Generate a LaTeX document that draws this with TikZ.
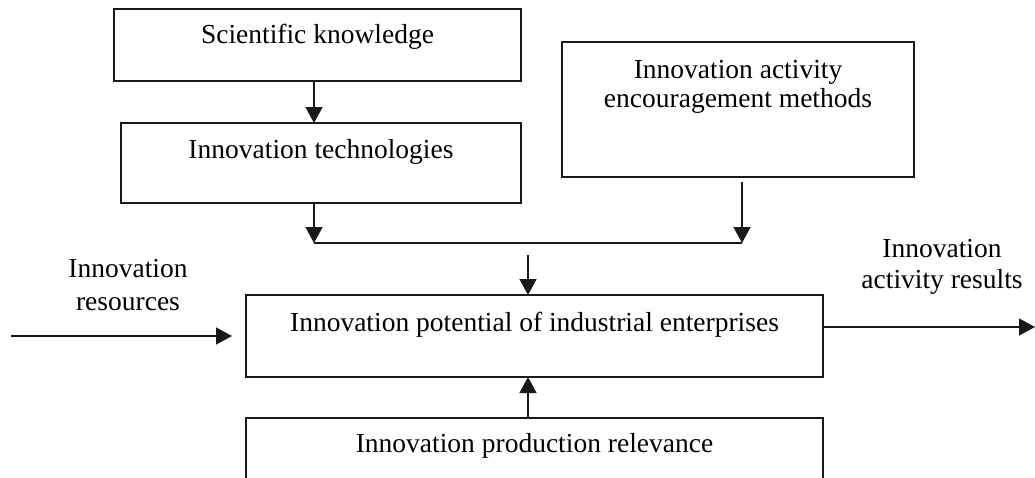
\documentclass[tikz,border=0pt]{standalone}
\usepackage{fontspec}
\setmainfont{Liberation Serif}
\usetikzlibrary{arrows.meta}
\begin{document}
\begin{tikzpicture}[x=1pt,y=-1pt,
  box/.style={draw=black!90, line width=1.5pt, inner sep=0pt, outer sep=0pt, rectangle},
  lbl/.style={inner sep=0pt, outer sep=0pt, font=\fontsize{27.5}{31}\selectfont, text=black},
  arr/.style={draw=black!90, line width=1.5pt, -{Triangle[length=16pt,width=17pt]}},
  ln/.style={draw=black!90, line width=1.5pt}]
\useasboundingbox (0,0) rectangle (1035,477);
\fill[white] (0,0) rectangle (1035,477);
% boxes
\node[box, minimum width=407pt, minimum height=72pt] (sk) at (317.5,45) {};
\node[box, minimum width=400pt, minimum height=80pt] (it) at (321,163) {};
\node[box, minimum width=352pt, minimum height=135pt] (enc) at (738,109.5) {};
\node[box, minimum width=577pt, minimum height=82pt] (pot) at (534.5,336) {};
\node[box, minimum width=577pt, minimum height=120pt] (rel) at (534.5,478) {};
% texts
\node[lbl, anchor=base] (skt) at (317.5,43) {Scientific knowledge};
\node[lbl, anchor=base] (itt) at (321,158) {Innovation technologies};
\node[lbl, anchor=base] (enct1) at (738,78) {Innovation activity};
\node[lbl, anchor=base] (enct2) at (738,107) {encouragement methods};
\node[lbl, anchor=base] (pott) at (534.5,331) {Innovation potential of industrial enterprises};
\node[lbl, anchor=base] (relt) at (534.5,452) {Innovation production relevance};
\node[lbl, anchor=base] (res1) at (128,277) {Innovation};
\node[lbl, anchor=base] (res2) at (128,310) {resources};
\node[lbl, anchor=base] (out1) at (942,257) {Innovation};
\node[lbl, anchor=base] (out2) at (942,288) {activity results};
% coordinates
\coordinate (jl) at (314,243);
\coordinate (jr) at (742,243);
\coordinate (encb) at (742,182);
\coordinate (jm) at (528,255);
\coordinate (inL) at (11,336);
\coordinate (inR) at (232,336);
\coordinate (outL) at (pot.east |- 0,327);
\coordinate (outR) at (1035,327);
% connectors
\draw[arr] (sk.south -| jl) -- (it.north -| jl);
\draw[arr] (it.south -| jl) -- (jl);
\draw[ln] (jl) -- (jr);
\draw[arr] (encb) -- (jr);
\draw[arr] (jm) -- (pot.north -| jm);
\draw[arr] (rel.north -| jm) -- (pot.south -| jm);
\draw[arr] (inL) -- (inR);
\draw[arr] (outL) -- (outR);
\end{tikzpicture}
\end{document}
